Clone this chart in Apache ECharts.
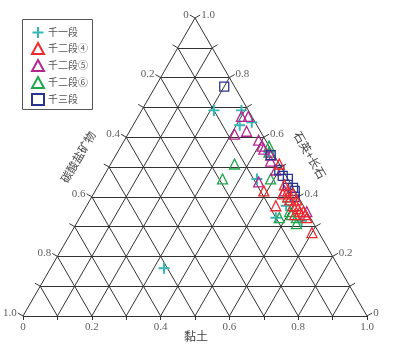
<!DOCTYPE html>
<html>
<head>
<meta charset="utf-8">
<script src="https://cdn.jsdelivr.net/npm/echarts@6/dist/echarts.min.js"></script>
<style>
  html, body { margin: 0; padding: 0; background: #fff; }
  #main { width: 394px; height: 352px; }
</style>
</head>
<body>
<div id="main"></div>
<script>
  // points are [黏土, 石英+长石]; 碳酸盐矿物 = 1 - both
  const qian1 = [[0.21,0.69],[0.29,0.69],[0.31,0.64],[0.34,0.65],[0.45,0.46],[0.44,0.55],[0.33,0.16],[0.65,0.32],[0.58,0.37],[0.57,0.33]]
  const qian2_4 = [[0.49,0.51],[0.49,0.42],[0.55,0.37],[0.70,0.28],[0.54,0.44],[0.56,0.42],[0.58,0.41],[0.60,0.39],[0.61,0.37],[0.62,0.36],[0.64,0.35],[0.65,0.34],[0.66,0.33],[0.58,0.39],[0.55,0.41],[0.60,0.37],[0.63,0.35],[0.57,0.40],[0.62,0.34]]
  const qian2_5 = [[0.30,0.67],[0.32,0.67],[0.34,0.62],[0.31,0.61],[0.39,0.59],[0.41,0.57],[0.42,0.56],[0.45,0.54],[0.46,0.45],[0.49,0.49],[0.55,0.42],[0.65,0.35],[0.46,0.52]]
  const qian2_6 = [[0.36,0.51],[0.35,0.46],[0.49,0.46],[0.43,0.57],[0.44,0.55],[0.60,0.35],[0.58,0.33],[0.63,0.33],[0.64,0.31],[0.57,0.40],[0.61,0.34]]
  const qian3 = [[0.20,0.77],[0.45,0.54],[0.50,0.49],[0.52,0.47],[0.54,0.46],[0.55,0.44],[0.57,0.43],[0.58,0.42],[0.59,0.40]]

  const gridSteps = [0.1,0.2,0.3,0.4,0.5,0.6,0.7,0.8,0.9]
  const tickSteps = [0,0.1,0.2,0.3,0.4,0.5,0.6,0.7,0.8,0.9,1.0]
  const labelValues = [0,0.2,0.4,0.6,0.8,1.0]
  const labelTexts = ['0','0.2','0.4','0.6','0.8','1.0']

  const H = Math.sqrt(3) / 2
  const PX = 1 / 344   // one pixel in data units
  const toXY = (clay, q) => [clay + q / 2, q * H]

  let gridLines = []
  // outer triangle
  gridLines.push({coords: [toXY(0,0), toXY(1,0)]})
  gridLines.push({coords: [toXY(1,0), toXY(0,1)]})
  gridLines.push({coords: [toXY(0,1), toXY(0,0)]})
  gridSteps.forEach(t => {
    gridLines.push({coords: [toXY(0,t), toXY(1-t,t)]})      // 石英+长石 const
    gridLines.push({coords: [toXY(t,0), toXY(t,1-t)]})      // 黏土 const
    gridLines.push({coords: [toXY(1-t,0), toXY(0,1-t)]})    // 碳酸盐 const
  })

  // ticks
  const tl = 6 * PX
  const lOut = [-0.866 * tl, 0.5 * tl]
  const rOut = [0.866 * tl, 0.5 * tl]
  let ticks = []
  tickSteps.forEach(t => {
    let b = toXY(t, 0)
    ticks.push({coords: [b, [b[0], b[1] - 4 * PX]]})
    let l = toXY(0, 1 - t)
    ticks.push({coords: [l, [l[0] + lOut[0], l[1] + lOut[1]]]})
    let r = toXY(1 - t, t)
    ticks.push({coords: [r, [r[0] + rOut[0], r[1] + rOut[1]]]})
  })

  let bottomLabels = [], leftLabels = [], rightLabels = []
  labelValues.forEach((v, i) => {
    let b = toXY(v, 0)
    bottomLabels.push({name: labelTexts[i], value: [b[0], b[1] - 4 * PX]})
    let l = toXY(0, 1 - v)
    leftLabels.push({name: labelTexts[i], value: [l[0] + lOut[0], l[1] + lOut[1]]})
    let r = toXY(1 - v, v)
    rightLabels.push({name: labelTexts[i], value: [r[0] + rOut[0], r[1] + rOut[1]]})
  })

  const numFont = {fontFamily: 'Liberation Serif', fontSize: 11, color: '#333'}
  const labelSeries = (data, pos, dist) => ({
    type: 'scatter', data: data, symbolSize: 0, silent: true, clip: false,
    label: Object.assign({show: true, position: pos, distance: dist, formatter: '{b}'}, numFont),
    labelLayout: {hideOverlap: false}
  })

  const plusPath = 'path://M4.1,0H5.9V4.1H10V5.9H5.9V10H4.1V5.9H0V4.1H4.1Z'
  const hollow = (name, data, symbol, color, size) => ({
    name: name, type: 'scatter', data: data.map(p => toXY(p[0], p[1])),
    symbol: symbol, symbolSize: size, clip: false,
    itemStyle: {color: 'rgba(0,0,0,0)', borderColor: color, borderWidth: 1.3, opacity: 1}
  })

  let chart = echarts.init(document.getElementById('main'))
  chart.setOption({
    animation: false,
    grid: {left: 23, right: 27, top: 18, bottom: 36},
    xAxis: {type: 'value', min: 0, max: 1, show: false},
    yAxis: {type: 'value', min: 0, max: H, show: false},
    legend: {
      orient: 'vertical', left: 31, top: 27, padding: 0,
      data: ['千一段', '千二段④', '千二段⑤', '千二段⑥', '千三段'],
      itemWidth: 12, itemHeight: 11, itemGap: 4,
      textStyle: {fontFamily: 'Noto Sans CJK SC', fontSize: 10, color: '#555', padding: [0, 0, 0, -1]}
    },
    graphic: [
      {type: 'rect', shape: {x: 22.5, y: 19.5, width: 70, height: 90}, style: {fill: 'none', stroke: '#555', lineWidth: 1}},
      {type: 'text', x: 196, y: 336, style: {text: '黏土', fontFamily: 'Noto Sans CJK SC', fontSize: 12, fill: '#444', align: 'center', verticalAlign: 'middle'}},
      {type: 'text', x: 78, y: 157, rotation: Math.PI / 3, style: {text: '碳酸盐矿物', fontFamily: 'Noto Sans CJK SC', fontSize: 11.5, fill: '#444', align: 'center', verticalAlign: 'middle'}},
      {type: 'text', x: 310, y: 155, rotation: -Math.PI / 3, style: {text: '石英+长石', fontFamily: 'Noto Sans CJK SC', fontSize: 11.5, fill: '#444', align: 'center', verticalAlign: 'middle'}}
    ],
    series: [
      {type: 'lines', coordinateSystem: 'cartesian2d', data: gridLines, silent: true, clip: false,
        lineStyle: {color: '#333', width: 1, opacity: 1}},
      {type: 'lines', coordinateSystem: 'cartesian2d', data: ticks, silent: true, clip: false,
        lineStyle: {color: '#333', width: 1, opacity: 1}},
      labelSeries(bottomLabels, 'bottom', 2),
      labelSeries(leftLabels, 'left', 1),
      labelSeries(rightLabels, 'right', 1),
      {name: '千一段', type: 'scatter', data: qian1.map(p => toXY(p[0], p[1])), clip: false,
        symbol: plusPath, symbolSize: 11, itemStyle: {color: '#34b7b5', opacity: 1}},
      hollow('千二段⑥', qian2_6, 'triangle', '#1fa64a', 10),
      hollow('千二段⑤', qian2_5, 'triangle', '#b5278f', 10),
      hollow('千三段', qian3, 'rect', '#29358d', 9),
      hollow('千二段④', qian2_4, 'triangle', '#ec2a2f', 10)
    ]
  })
</script>
</body>
</html>
